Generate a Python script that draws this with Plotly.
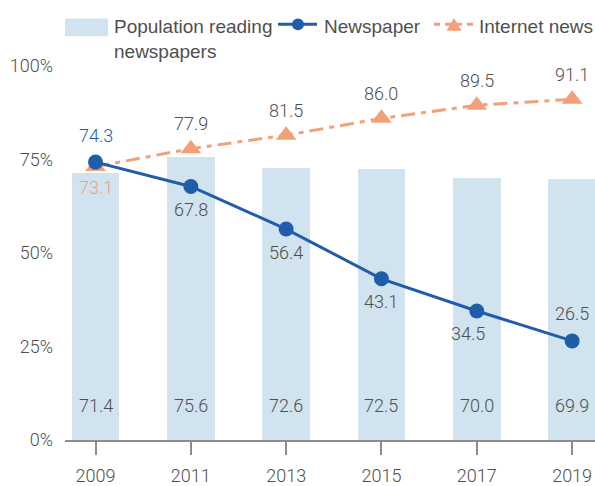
import plotly.graph_objects as go

# ---- data ----
years = ["2009", "2011", "2013", "2015", "2017", "2019"]
population_reading = [71.4, 75.6, 72.6, 72.5, 70.0, 69.9]
newspaper = [74.3, 67.8, 56.4, 43.1, 34.5, 26.5]
internet_news = [73.1, 77.9, 81.5, 86.0, 89.5, 91.1]
y_tick_vals = [0, 25, 50, 75, 100]
y_tick_text = ["0%", "25%", "50%", "75%", "100%"]

# ---- styling ----
W, H = 595, 486
ML, MR, MT, MB = 65, 0, 66, 43
PW, PH = W - ML - MR, H - MT - MB

BAR_COLOR = "#d0e3ef"
NEWS_COLOR = "#1f5dab"
NET_COLOR = "#f3a079"
TEXT_COLOR = "#4f4f4f"
NUM_FONT = "Roboto, DejaVu Sans Condensed, sans-serif"
NUM_SIZE = 18
NUM_WEIGHT = 300
SANS = "Liberation Sans, Arial, sans-serif"

news_label_above = [True, False, False, False, False, True]
net_label_above = [False, True, True, True, True, True]


def px(x):
    return (x - ML) / PW


def py(y):
    return (H - MB - y) / PH


def num_font(color=TEXT_COLOR):
    return dict(family=NUM_FONT, size=NUM_SIZE, color=color, weight=NUM_WEIGHT)


fig = go.Figure()

fig.add_trace(go.Bar(
    x=years, y=population_reading, width=0.5,
    marker=dict(color=BAR_COLOR, line=dict(width=0)),
    hoverinfo="skip", showlegend=False,
))

fig.add_trace(go.Scatter(
    x=years, y=internet_news, mode="lines+markers",
    line=dict(color=NET_COLOR, width=3, dash="14px,6px,5px,6px"),
    marker=dict(symbol="triangle-up", size=18, color=NET_COLOR),
    showlegend=False,
))

fig.add_trace(go.Scatter(
    x=years, y=newspaper, mode="lines+markers",
    line=dict(color=NEWS_COLOR, width=3),
    marker=dict(symbol="circle", size=15, color=NEWS_COLOR),
    showlegend=False,
))

annotations = []

# value labels on the bars (category axes take the category index)
for i, v in enumerate(population_reading):
    annotations.append(dict(
        x=i, y=0, xref="x", yref="y", text=f"{v:.1f}", showarrow=False,
        yanchor="middle", yshift=35, font=num_font(),
    ))

# newspaper point labels
for i, v in enumerate(newspaper):
    above = news_label_above[i]
    annotations.append(dict(
        x=i, y=v, xref="x", yref="y", text=f"{v:.1f}", showarrow=False,
        yanchor="middle", yshift=27 if above else -23,
        xshift=-9 if i == 4 else 0,
        font=num_font(NEWS_COLOR if i == 0 else TEXT_COLOR),
    ))

# internet news point labels
for i, v in enumerate(internet_news):
    above = net_label_above[i]
    annotations.append(dict(
        x=i, y=v, xref="x", yref="y", text=f"{v:.1f}", showarrow=False,
        yanchor="middle", yshift=25 if above else -21,
        font=num_font(NET_COLOR if i == 0 else TEXT_COLOR),
    ))

# ---- legend drawn at the top ----
shapes = []
shapes.append(dict(type="rect", xref="paper", yref="paper",
                   x0=px(65), x1=px(108), y0=py(36), y1=py(18),
                   fillcolor=BAR_COLOR, line=dict(width=0)))
annotations.append(dict(x=px(112), y=py(14), xref="paper", yref="paper",
                        text="Population reading<br>newspapers", showarrow=False,
                        xanchor="left", yanchor="top", align="left",
                        font=dict(family=SANS, size=19, color=TEXT_COLOR)))

# newspaper key
ly = 24
shapes.append(dict(type="line", xref="paper", yref="paper",
                   x0=px(278), x1=px(317), y0=py(ly), y1=py(ly),
                   line=dict(color=NEWS_COLOR, width=3)))
r = 6
shapes.append(dict(type="circle", xref="paper", yref="paper",
                   x0=px(298 - r), x1=px(298 + r), y0=py(ly + r), y1=py(ly - r),
                   fillcolor=NEWS_COLOR, line=dict(width=0)))
annotations.append(dict(x=px(322), y=py(ly + 2), xref="paper", yref="paper",
                        text="Newspaper", showarrow=False,
                        xanchor="left", yanchor="middle",
                        font=dict(family=SANS, size=19, color=TEXT_COLOR)))

# internet news key
shapes.append(dict(type="line", xref="paper", yref="paper",
                   x0=px(434), x1=px(475), y0=py(ly), y1=py(ly),
                   line=dict(color=NET_COLOR, width=3, dash="6px,5px")))
tx, th, tw = 454, 13, 15
path = (f"M {px(tx - tw / 2)} {py(ly + th / 2)} "
        f"L {px(tx + tw / 2)} {py(ly + th / 2)} "
        f"L {px(tx)} {py(ly - th / 2)} Z")
shapes.append(dict(type="path", xref="paper", yref="paper", path=path,
                   fillcolor=NET_COLOR, line=dict(width=0)))
annotations.append(dict(x=px(477), y=py(ly + 2), xref="paper", yref="paper",
                        text="Internet news", showarrow=False,
                        xanchor="left", yanchor="middle",
                        font=dict(family=SANS, size=19, color=TEXT_COLOR)))

fig.update_layout(
    width=W, height=H,
    margin=dict(l=ML, r=MR, t=MT, b=MB),
    paper_bgcolor="white", plot_bgcolor="white",
    showlegend=False,
    bargap=0,
    shapes=shapes,
    annotations=annotations,
    xaxis=dict(
        type="category", range=[-0.32, 5.24],
        showline=True, linecolor="#8c8c8c", linewidth=2,
        ticks="outside", ticklen=13, tickwidth=2, tickcolor="#8c8c8c",
        tickfont=num_font(),
        ticklabelstandoff=5,
        showgrid=False, zeroline=False, fixedrange=True,
    ),
    yaxis=dict(
        range=[0, 100], tickvals=y_tick_vals, ticktext=y_tick_text,
        showline=False, showgrid=False, zeroline=False, ticks="",
        tickfont=num_font(),
        ticklabelstandoff=11, fixedrange=True,
    ),
)

fig.write_html("out.html")
